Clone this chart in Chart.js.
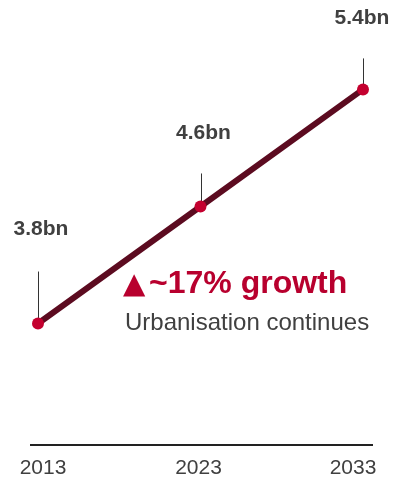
<!DOCTYPE html>
<html>
<head>
<meta charset="utf-8">
<script src="https://cdn.jsdelivr.net/npm/chart.js@4.4.1/dist/chart.umd.min.js"></script>
<style>
  html, body { margin: 0; padding: 0; background: #ffffff; }
  #wrap { width: 393px; height: 479px; position: relative; }
</style>
</head>
<body>
<div id="wrap"><canvas id="chart"></canvas></div>
<script>
// Urban population, billions
const years = ['2013', '2023', '2033'];
const population = [3.8, 4.6, 5.4];
const valueLabels = ['3.8bn', '4.6bn', '5.4bn'];
const headlineMark = '▲';
const headline = '~17% growth';
const subline = 'Urbanisation continues';

const LINE_COLOR = '#5c0b20';
const POINT_COLOR = '#c4002f';
const ACCENT = '#b8002e';
const TEXT_DARK = '#404040';
const FONT = '"Liberation Sans", Arial, Helvetica, sans-serif';

// Leader lines, value labels, baseline rule, year labels and the growth note
const calloutPlugin = {
  id: 'callouts',
  beforeDatasetsDraw(chart, args, opts) {
    const ctx = chart.ctx;
    const pts = chart.getDatasetMeta(0).data;
    ctx.save();
    ctx.strokeStyle = '#333333';
    ctx.lineWidth = 1;
    pts.forEach((p, i) => {
      const x = Math.round(p.x) + 0.5;
      ctx.beginPath();
      ctx.moveTo(x, p.y - opts.leader[i]);
      ctx.lineTo(x, p.y);
      ctx.stroke();
    });
    ctx.restore();
  },
  afterDatasetsDraw(chart, args, opts) {
    const ctx = chart.ctx;
    const pts = chart.getDatasetMeta(0).data;
    const area = chart.chartArea;
    const xScale = chart.scales.x;
    ctx.save();
    ctx.fillStyle = TEXT_DARK;
    ctx.font = 'bold 21px ' + FONT;
    ctx.textAlign = 'center';
    ctx.textBaseline = 'alphabetic';
    pts.forEach((p, i) => {
      ctx.fillText(valueLabels[i], p.x + opts.labelShift[i], p.y - opts.lift[i]);
    });

    // baseline axis rule
    const yAxis = area.bottom;
    ctx.strokeStyle = '#222222';
    ctx.lineWidth = 2;
    ctx.beginPath();
    ctx.moveTo(area.left - 8, yAxis);
    ctx.lineTo(area.right + 10, yAxis);
    ctx.stroke();

    // year labels under the rule
    ctx.fillStyle = TEXT_DARK;
    ctx.font = '21px ' + FONT;
    ctx.textBaseline = 'middle';
    years.forEach((yr, i) => {
      ctx.fillText(yr, xScale.getPixelForValue(i) + opts.tickShift[i], yAxis + 23);
    });

    // growth annotation
    ctx.textBaseline = 'alphabetic';
    ctx.textAlign = 'left';
    ctx.fillStyle = ACCENT;
    ctx.font = 'bold 29px "DejaVu Sans", sans-serif';
    ctx.fillText(headlineMark, area.left + 85, 293);
    ctx.font = 'bold 32px ' + FONT;
    ctx.fillText(headline, area.left + 111, 293);
    ctx.fillStyle = TEXT_DARK;
    ctx.font = '24px ' + FONT;
    ctx.fillText(subline, area.left + 87, 330);
    ctx.restore();
  }
};

new Chart(document.getElementById('chart'), {
  type: 'line',
  data: {
    labels: years,
    datasets: [{
      data: population,
      borderColor: LINE_COLOR,
      borderWidth: 6,
      pointRadius: 6,
      pointHoverRadius: 6,
      pointBackgroundColor: POINT_COLOR,
      pointBorderColor: POINT_COLOR,
      pointBorderWidth: 0,
      tension: 0,
      fill: false
    }]
  },
  options: {
    responsive: true,
    maintainAspectRatio: false,
    animation: false,
    events: [],
    layout: { padding: { left: 38, right: 30, top: 6, bottom: 34 } },
    plugins: {
      legend: { display: false },
      tooltip: { enabled: false },
      callouts: {
        leader: [52, 33, 31],
        lift: [89, 67, 65],
        labelShift: [3, 3, -1],
        tickShift: [5, -2, -10]
      }
    },
    scales: {
      x: {
        type: 'category',
        offset: false,
        display: false
      },
      y: {
        display: false,
        min: 2.97,
        max: 5.97
      }
    }
  },
  plugins: [calloutPlugin]
});
</script>
</body>
</html>
